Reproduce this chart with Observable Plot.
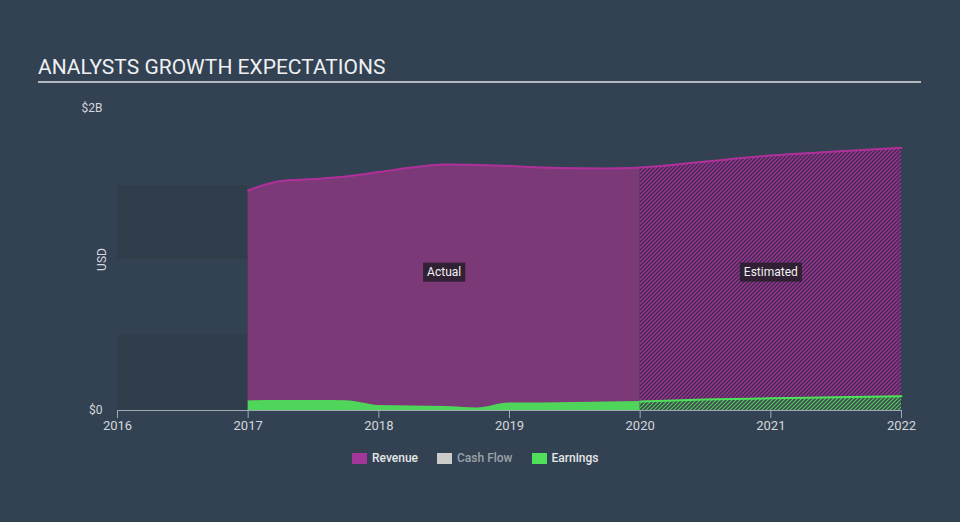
<!DOCTYPE html>
<html>
<head>
<meta charset="utf-8">
<script src="https://cdn.jsdelivr.net/npm/d3@7"></script>
<script src="https://cdn.jsdelivr.net/npm/@observablehq/plot@0.6"></script>
<style>
  body { margin: 0; background: #334252; font-family: Roboto, "Noto Sans", sans-serif; }
  #wrap { position: relative; width: 960px; height: 522px; overflow: hidden; background: #334252; }
  #title { position: absolute; left: 38px; top: 57px; font-size: 21px; line-height: 21px; color: #eef0f2; }
  #rule { position: absolute; left: 38px; top: 81px; width: 883px; height: 2px; background: #b3b9bf; }
  #chart { position: absolute; left: 0; top: 0; }
  #legend { position: absolute; left: 352px; top: 450px; display: flex; align-items: center; font-size: 12px; font-weight: 500; height: 16px; }
  .item { display: flex; align-items: center; margin-right: 19px; }
  .sw { width: 15px; height: 11px; margin-right: 5px; }
</style>
</head>
<body>
<div id="wrap">
  <div id="title">ANALYSTS GROWTH EXPECTATIONS</div>
  <div id="rule"></div>
  <div id="chart"></div>
  <div id="legend"></div>
</div>
<script>
// ---- data (values in $ billions) ----
const actualYears   = [2017, 2017.25, 2017.5, 2017.75, 2018, 2018.25, 2018.5, 2018.75, 2019, 2019.25, 2019.5, 2019.75, 2020];
const revenueActual = [1.457, 1.52, 1.533, 1.55, 1.579, 1.609, 1.629, 1.626, 1.619, 1.609, 1.604, 1.603, 1.609];
const earningsActual = [0.063, 0.066, 0.066, 0.064, 0.033, 0.030, 0.026, 0.017, 0.050, 0.050, 0.053, 0.056, 0.060];

const estimateYears    = [2020, 2020.5, 2021, 2021.5, 2022];
const revenueEstimate  = [1.609, 1.649, 1.689, 1.715, 1.74];
const earningsEstimate = [0.060, 0.073, 0.081, 0.087, 0.094];

const xTicks = [2016, 2017, 2018, 2019, 2020, 2021, 2022];
const yTicks = [0, 2];
const yTickLabels = ["$0", "$2B"];

// shaded history bands (2016–2017)
const bandStart = 2016, bandEnd = 2017;
const bandLow  = [0, 1];
const bandHigh = [0.5, 1.49];

const periodLabels = ["Actual", "Estimated"];
const periodLabelX = [2018.5, 2021];
const periodLabelY = [0.915, 0.915];

const legendNames  = ["Revenue", "Cash Flow", "Earnings"];
const legendColors = ["#a3369a", "#cccccc", "#4fe05a"];
const legendText   = ["#e4e6e8", "#9ba3ab", "#e4e6e8"];

// ---- build tables ----
const revA = actualYears.map((x, i) => ({x, y: revenueActual[i]}));
const revE = estimateYears.map((x, i) => ({x, y: revenueEstimate[i]}));
const earnA = actualYears.map((x, i) => ({x, y: earningsActual[i]}));
const earnE = estimateYears.map((x, i) => ({x, y: earningsEstimate[i]}));
const revAll = revA.concat(revE.slice(1));
const bands = bandLow.map((lo, i) => ({x1: bandStart, x2: bandEnd, y1: lo, y2: bandHigh[i]}));
const labels = periodLabels.map((t, i) => ({t, x: periodLabelX[i], y: periodLabelY[i]}));

const curve = "monotone-x";

const svg = Plot.plot({
  width: 960,
  height: 522,
  marginLeft: 117,
  marginRight: 59,
  marginTop: 108,
  marginBottom: 112,
  style: { background: "transparent", color: "#cfd4d9", fontFamily: "Roboto, sans-serif", fontSize: "13px" },
  x: { domain: [2016, 2022] },
  y: { domain: [0, 2] },
  marks: [
    Plot.rect(bands, { x1: "x1", x2: "x2", y1: "y1", y2: "y2", fill: "#303e4c" }),
    Plot.areaY(revA, { x: "x", y: "y", curve, fill: "#7b3977" }),
    Plot.areaY(revE, { x: "x", y: "y", curve, fill: "url(#hatchRev)" }),
    Plot.lineY(revAll, { x: "x", y: "y", curve, stroke: "#b0309a", strokeWidth: 2 }),
    Plot.areaY(earnA, { x: "x", y: "y", curve, fill: "#4fd65a" }),
    Plot.areaY(earnE, { x: "x", y: "y", curve, fill: "url(#hatchEarn)" }),
    Plot.lineY(earnE, { x: "x", y: "y", curve, stroke: "#4fe05a", strokeWidth: 2 }),
    Plot.ruleY([0], { x1: 2016, x2: 2022, stroke: "#9ea9b4", strokeWidth: 1.2 }),
    Plot.axisX({ ticks: xTicks, tickFormat: d => String(d), tickSize: 8, tickPadding: 2, stroke: "#9ea9b4", label: null, fontSize: 13, fill: "#d3d7db" }),
    Plot.axisY({ ticks: yTicks, tickFormat: d => yTickLabels[yTicks.indexOf(d)], tickSize: 0, tickPadding: 15, label: "USD", labelAnchor: "center", labelArrow: "none", labelOffset: 20, fontSize: 12, fill: "#d3d7db" }),
    Plot.text(labels, { x: "x", y: "y", text: "t", fill: "#f2f2f2", fontSize: 12 })
  ]
});

document.getElementById("chart").appendChild(svg);

// patterns for the estimated part
const s = d3.select(svg);
const defs = s.insert("defs", ":first-child");
function hatch(id, bg, line) {
  const p = defs.append("pattern").attr("id", id).attr("patternUnits", "userSpaceOnUse")
    .attr("width", 4).attr("height", 4);
  p.append("rect").attr("width", 4).attr("height", 4).attr("fill", bg);
  p.append("path").attr("d", "M-1,1 l2,-2 M0,4 l4,-4 M3,5 l2,-2")
    .attr("stroke", line).attr("stroke-width", 1.1);
}
hatch("hatchRev", "#482a55", "#a8369c");
hatch("hatchEarn", "#3a4f4c", "#58c862");

// dark boxes behind the period labels
s.selectAll("text").filter(function () { return periodLabels.includes(this.textContent); })
  .each(function () {
    const b = this.getBBox();
    const r = d3.select(this.parentNode).insert("rect", () => this)
      .attr("x", b.x - 4).attr("y", b.y - 2.5)
      .attr("width", b.width + 8).attr("height", b.height + 5)
      .attr("fill", "#2a1f2f").attr("fill-opacity", 0.92);
    const tr = this.getAttribute("transform");
    if (tr) r.attr("transform", tr);
  });

// legend
const lg = d3.select("#legend");
legendNames.forEach((n, i) => {
  const it = lg.append("div").attr("class", "item");
  it.append("div").attr("class", "sw").style("background", legendColors[i]);
  it.append("span").style("color", legendText[i]).text(n);
});
</script>
</body>
</html>
